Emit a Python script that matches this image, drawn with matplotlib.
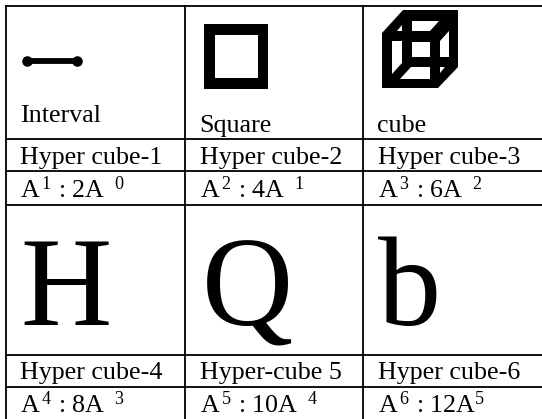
import matplotlib
matplotlib.use('Agg')
import matplotlib.pyplot as plt
import matplotlib.patches as patches

plt.rcParams['font.family'] = ['Liberation Serif', 'DejaVu Serif']
plt.rcParams['mathtext.fontset'] = 'custom'
plt.rcParams['mathtext.rm'] = 'Liberation Serif'
plt.rcParams['mathtext.default'] = 'rm'

shape_names = ['Interval', 'Square', 'cube']
hyper_names = ['Hyper cube-1', 'Hyper cube-2', 'Hyper cube-3',
               'Hyper cube-4', 'Hyper-cube 5', 'Hyper cube-6']
ratios = [r'A$^{\,1}$ : 2A $\,^{0}$', r'A$^{\,2}$ : 4A $\,^{1}$', r'A$^{\,3}$ : 6A $\,^{2}$',
          r'A$^{\,4}$ : 8A $\,^{3}$', r'A$^{\,5}$ : 10A $\,^{4}$', r'A$^{\,6}$ : 12A$^{5}$']
big_letters = ['H', 'Q', 'b']

col_lines = [6, 184.5, 363]
row_lines = [6, 139, 171, 205, 355, 387]
text_x = [20.5, 199.5, 377.5]

fig = plt.figure(figsize=(5.42, 4.19), dpi=100)
ax = fig.add_axes([0, 0, 1, 1])
ax.set_xlim(0, 542)
ax.set_ylim(419, 0)
ax.axis('off')

# table lines
for x in col_lines:
    ax.plot([x, x], [5, 419], color='black', lw=1.3, solid_capstyle='butt')
for y in row_lines:
    ax.plot([5, 542], [y, y], color='black', lw=1.3, solid_capstyle='butt')

# interval
ax.plot([27, 76.5], [61, 61], color='black', lw=4.2, solid_capstyle='butt')
ax.plot([27, 76.5], [61, 61], 'o', color='black', ms=7.6, mew=0)

# square
ax.add_patch(patches.Rectangle((204, 24), 64, 65, fc='black', ec='none'))
ax.add_patch(patches.Rectangle((215, 35), 43, 43, fc='white', ec='none'))

# cube
outer = [(382, 33), (403, 10), (458, 10), (458, 67), (438, 88), (382, 88)]
holes = [
    [(412, 21), (439, 21), (430, 31), (412, 31)],
    [(397, 31), (402, 25), (402, 31)],
    [(392, 41), (402, 41), (402, 63), (392, 74)],
    [(412, 42), (430, 42), (430, 57), (412, 57)],
    [(440, 41), (449, 31), (449, 57), (440, 57)],
    [(411, 67), (430, 67), (430, 79), (400, 79)],
    [(440, 67), (445, 67), (440, 73)],
]
ax.add_patch(patches.Polygon(outer, closed=True, fc='black', ec='none'))
for hole in holes:
    ax.add_patch(patches.Polygon(hole, closed=True, fc='white', ec='none'))

# top row captions
shape_base = [122, 132, 132]
for name, x, y in zip(shape_names, text_x, shape_base):
    ax.text(x, y, name, fontsize=18.7, ha='left', va='baseline')

# name and ratio rows
name_base = [164, 379]
ratio_base = [198, 413]
for i, name in enumerate(hyper_names):
    ax.text(text_x[i % 3], name_base[i // 3], name, fontsize=18.7, ha='left', va='baseline')
for i, ratio in enumerate(ratios):
    ax.text(text_x[i % 3], ratio_base[i // 3], ratio, fontsize=18.7, ha='left', va='baseline')

# big letters
for letter, x in zip(big_letters, [20, 202, 378]):
    ax.text(x, 325, letter, fontsize=91, ha='left', va='baseline')

fig.savefig('out.png', dpi=100)
plt.close()
